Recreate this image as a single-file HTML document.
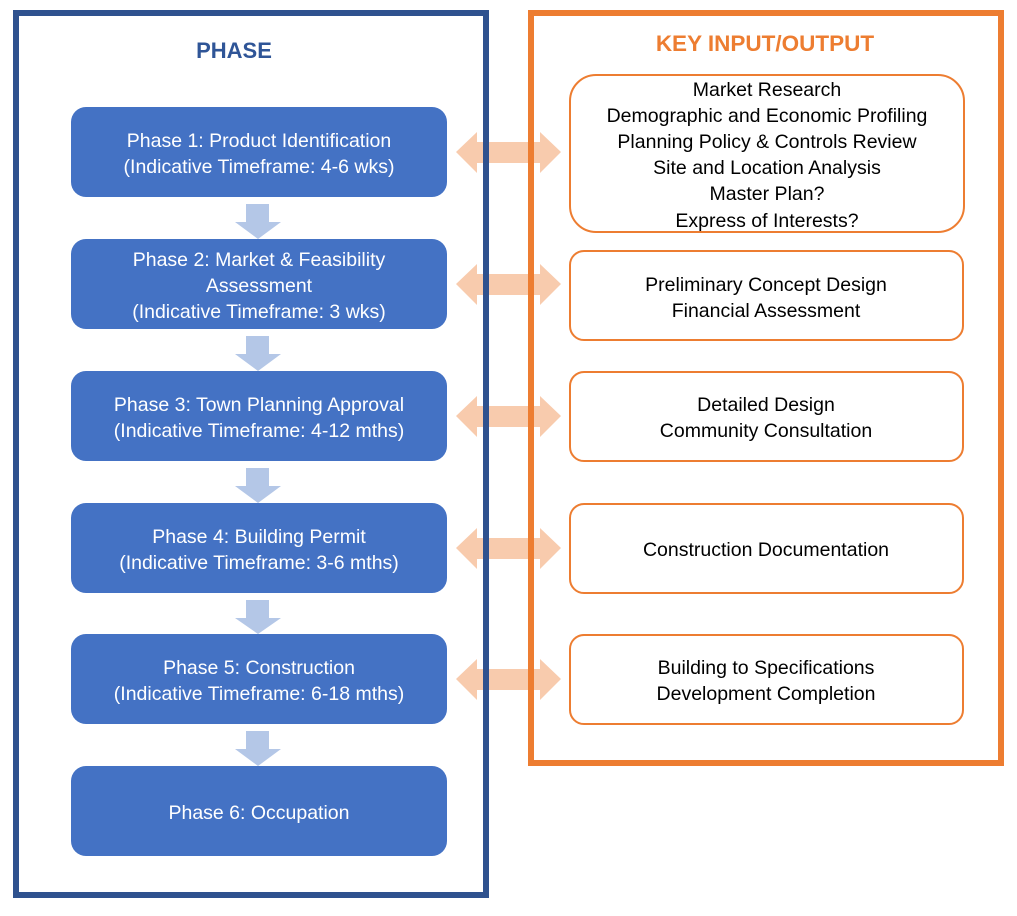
<!DOCTYPE html>
<html><head><meta charset="utf-8"><style>
html,body{margin:0;padding:0;background:#fff;}
svg text{font-family:"Liberation Sans",sans-serif;}
</style></head><body>
<svg width="1017" height="911" viewBox="0 0 1017 911" xmlns="http://www.w3.org/2000/svg">
<rect width="1017" height="911" fill="#fff"/>
<g fill="#B4C7E7">
<polygon points="246,204 269,204 269,222 281,222 258,239 235,222 246,222"/>
<polygon points="246,336 269,336 269,354 281,354 258,371 235,354 246,354"/>
<polygon points="246,468 269,468 269,486 281,486 258,503 235,486 246,486"/>
<polygon points="246,600 269,600 269,618 281,618 258,634 235,618 246,618"/>
<polygon points="246,731 269,731 269,749 281,749 258,766 235,749 246,749"/>
</g>
<g fill="#4472C4">
<rect x="71" y="107" width="376" height="90" rx="15"/>
<rect x="71" y="239" width="376" height="90" rx="15"/>
<rect x="71" y="371" width="376" height="90" rx="15"/>
<rect x="71" y="503" width="376" height="90" rx="15"/>
<rect x="71" y="634" width="376" height="90" rx="15"/>
<rect x="71" y="766" width="376" height="90" rx="15"/>
</g>
<g fill="#F8CBAD">
<polygon points="456,152 477,132 477,142 540,142 540,132 561,152 540,173 540,163 477,163 477,173"/>
<polygon points="456,284 477,264 477,274 540,274 540,264 561,284 540,305 540,295 477,295 477,305"/>
<polygon points="456,416 477,396 477,406 540,406 540,396 561,416 540,437 540,427 477,427 477,437"/>
<polygon points="456,548 477,528 477,538 540,538 540,528 561,548 540,569 540,559 477,559 477,569"/>
<polygon points="456,679 477,659 477,669 540,669 540,659 561,679 540,700 540,690 477,690 477,700"/>
</g>
<rect x="16" y="13" width="470" height="882" fill="none" stroke="#2F528F" stroke-width="6"/>
<rect x="531" y="13" width="470" height="750" fill="none" stroke="#ED7D31" stroke-width="6"/>
<g fill="none" stroke="#ED7D31" stroke-width="2">
<rect x="570" y="75" width="394" height="157" rx="26"/>
<rect x="570" y="251" width="393" height="89" rx="14"/>
<rect x="570" y="372" width="393" height="89" rx="14"/>
<rect x="570" y="504" width="393" height="89" rx="14"/>
<rect x="570" y="635" width="393" height="89" rx="14"/>
</g>
<text x="234" y="58" text-anchor="middle" font-size="22" font-weight="bold" fill="#2F5597">PHASE</text>
<text x="765" y="51" text-anchor="middle" font-size="22.5" font-weight="bold" fill="#ED7D31">KEY INPUT/OUTPUT</text>
<g fill="#fff" font-size="19.5" text-anchor="middle">
<text x="259" y="147">Phase 1: Product Identification</text>
<text x="259" y="173">(Indicative Timeframe: 4-6 wks)</text>
<text x="259" y="266">Phase 2: Market &amp; Feasibility</text>
<text x="259" y="292">Assessment</text>
<text x="259" y="318">(Indicative Timeframe: 3 wks)</text>
<text x="259" y="411">Phase 3: Town Planning Approval</text>
<text x="259" y="437">(Indicative Timeframe: 4-12 mths)</text>
<text x="259" y="543">Phase 4: Building Permit</text>
<text x="259" y="569">(Indicative Timeframe: 3-6 mths)</text>
<text x="259" y="674">Phase 5: Construction</text>
<text x="259" y="700">(Indicative Timeframe: 6-18 mths)</text>
<text x="259" y="819">Phase 6: Occupation</text>
</g>
<g fill="#000" font-size="19.5" text-anchor="middle">
<text x="767" y="96">Market Research</text>
<text x="767" y="122">Demographic and Economic Profiling</text>
<text x="767" y="148">Planning Policy &amp; Controls Review</text>
<text x="767" y="174">Site and Location Analysis</text>
<text x="767" y="200">Master Plan?</text>
<text x="767" y="227">Express of Interests?</text>
<text x="766" y="291">Preliminary Concept Design</text>
<text x="766" y="317">Financial Assessment</text>
<text x="766" y="411">Detailed Design</text>
<text x="766" y="437">Community Consultation</text>
<text x="766" y="556">Construction Documentation</text>
<text x="766" y="674">Building to Specifications</text>
<text x="766" y="700">Development Completion</text>
</g>
</svg>
</body></html>
